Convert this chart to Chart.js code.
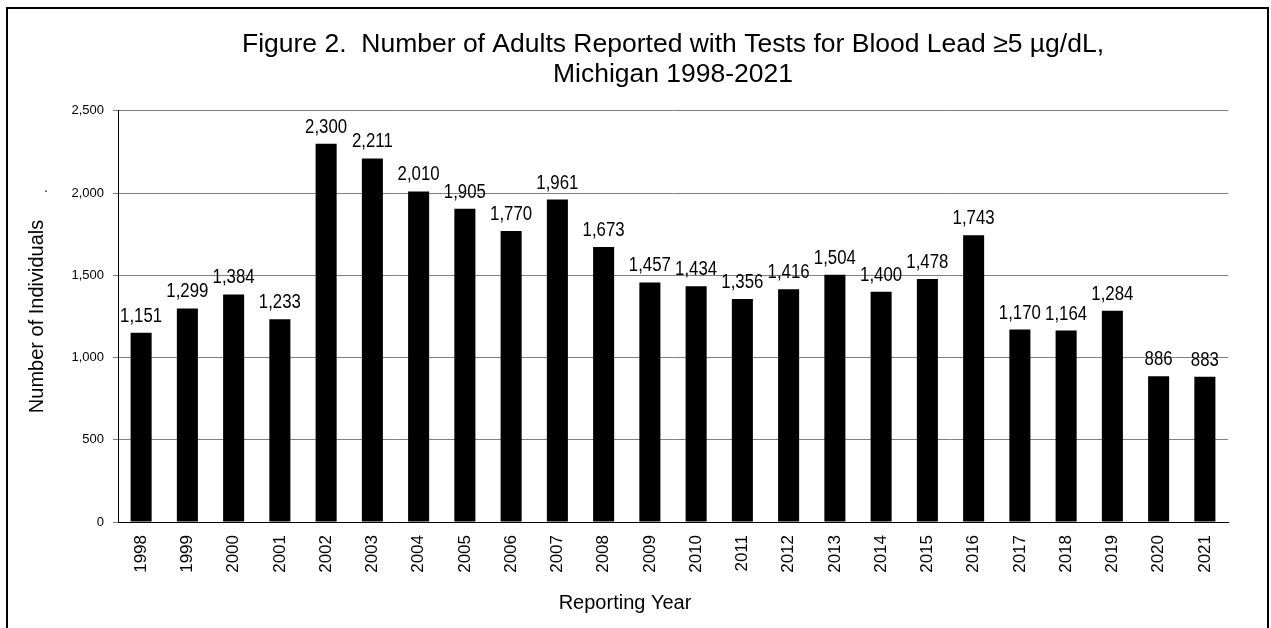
<!DOCTYPE html>
<html>
<head>
<meta charset="utf-8">
<script src="https://cdn.jsdelivr.net/npm/chart.js@4"></script>
<style>
  html, body { margin: 0; padding: 0; background: #fff; }
  #wrap { width: 1271px; height: 628px; }
</style>
</head>
<body>
<div id="wrap"><canvas id="leadChart" width="1271" height="628"></canvas></div>
<script>
const years = ['1998','1999','2000','2001','2002','2003','2004','2005','2006','2007','2008','2009',
               '2010','2011','2012','2013','2014','2015','2016','2017','2018','2019','2020','2021'];
const adults = [1151, 1299, 1384, 1233, 2300, 2211, 2010, 1905, 1770, 1961, 1673, 1457,
                1434, 1356, 1416, 1504, 1400, 1478, 1743, 1170, 1164, 1284, 886, 883];
const titleLines = ['Figure 2.  Number of Adults Reported with Tests for Blood Lead \u22655 \u00b5g/dL,',
                    'Michigan 1998-2021'];
const xTitle = 'Reporting Year';
const yTitle = 'Number of Individuals';

const FONT = "'Liberation Sans', Arial, sans-serif";
const fmt = v => Number(v).toLocaleString('en-US');

// value labels above bars (slightly condensed, like Arial Narrow), frame and x-axis title
const extras = {
    id: 'extras',
    afterDatasetsDraw(chart) {
        const ctx = chart.ctx;
        const meta = chart.getDatasetMeta(0);
        ctx.save();
        ctx.fillStyle = '#000';
        ctx.font = '20px ' + FONT;
        ctx.textAlign = 'center';
        ctx.textBaseline = 'alphabetic';
        meta.data.forEach((bar, i) => {
            ctx.save();
            ctx.translate(bar.x, bar.y - 11);
            ctx.scale(0.84, 1);
            ctx.fillText(fmt(adults[i]), 0, 0);
            ctx.restore();
        });
        ctx.restore();
    },
    afterDraw(chart) {
        const ctx = chart.ctx;
        const x = chart.scales.x;
        ctx.save();
        ctx.fillStyle = '#000';
        ctx.font = '20px ' + FONT;
        ctx.textAlign = 'center';
        ctx.textBaseline = 'middle';
        ctx.fillText(xTitle, (x.left + x.right) / 2 - 48, 603);
        ctx.font = '14px ' + FONT;
        ctx.fillText('.', 46, 188);
        // outer frame
        ctx.strokeStyle = '#000';
        ctx.lineWidth = 2;
        ctx.beginPath();
        ctx.moveTo(7, 640);
        ctx.lineTo(7, 8);
        ctx.lineTo(1268, 8);
        ctx.lineTo(1268, 640);
        ctx.stroke();
        ctx.restore();
    }
};

Chart.defaults.color = '#000';
Chart.defaults.font.family = FONT;

new Chart(document.getElementById('leadChart'), {
    type: 'bar',
    data: {
        labels: years,
        datasets: [{
            data: adults,
            backgroundColor: '#000',
            borderWidth: 0,
            categoryPercentage: 1,
            barPercentage: 0.455
        }]
    },
    options: {
        responsive: false,
        animation: false,
        layout: { padding: { left: 0, right: 43, top: 0, bottom: 0 } },
        plugins: {
            legend: { display: false },
            tooltip: { enabled: false },
            title: {
                display: true,
                text: titleLines,
                fullSize: false,
                color: '#000',
                font: { size: 26.5, weight: 'normal', lineHeight: 1.13 },
                padding: { top: 30, bottom: 21 }
            }
        },
        scales: {
            x: {
                grid: { display: false },
                border: { display: true, color: '#000', width: 1 },
                ticks: {
                    maxRotation: 90,
                    minRotation: 90,
                    padding: 5,
                    autoSkip: false,
                    font: { size: 17 }
                },
                afterFit(scale) { scale.height = 106; }
            },
            y: {
                min: 0,
                max: 2500,
                grid: { color: '#808080', lineWidth: 1, tickLength: 5, tickColor: '#808080' },
                border: { display: true, color: '#000', width: 1 },
                ticks: {
                    stepSize: 500,
                    padding: 9,
                    font: { size: 13 },
                    callback: v => fmt(v)
                },
                title: {
                    display: true,
                    text: yTitle,
                    font: { size: 20 },
                    padding: { top: 25, bottom: 0 }
                },
                afterFit(scale) { scale.width = 118; }
            }
        }
    },
    plugins: [extras]
});
</script>
</body>
</html>
